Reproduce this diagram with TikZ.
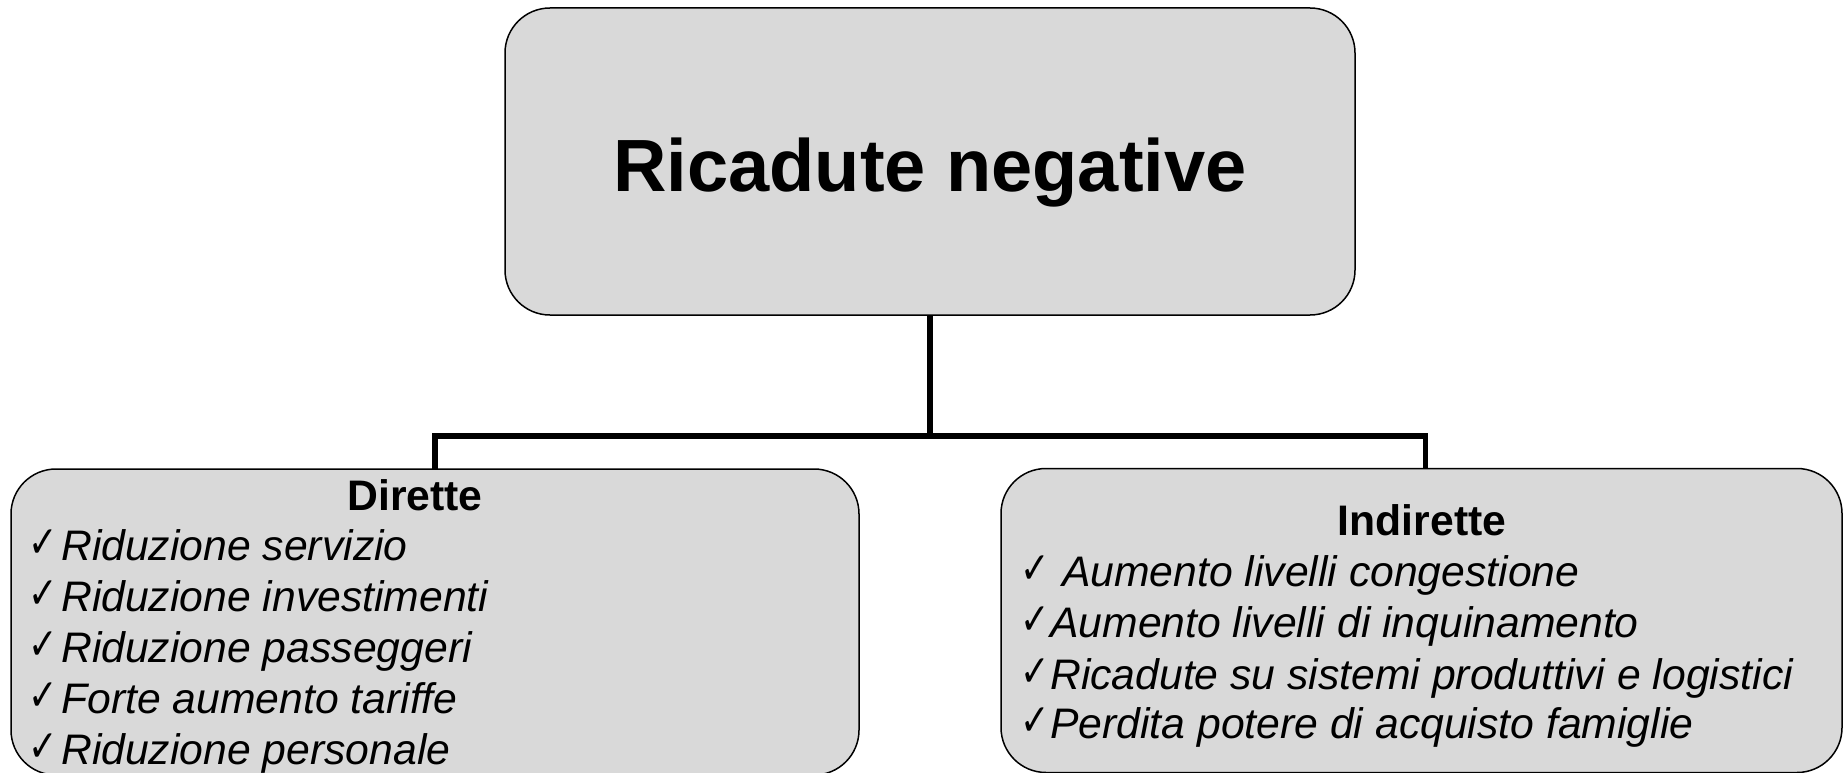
\documentclass[tikz,border=0pt]{standalone}
\usepackage{fontspec}
\setmainfont{Liberation Sans}
\newfontfamily\symfont{DejaVu Sans}
\definecolor{boxgray}{HTML}{D9D9D9}
\newcommand{\spunta}[1]{\makebox[#1][l]{\raisebox{3pt}{\scalebox{0.8}[1]{\symfont\fontsize{44}{44}\selectfont ✓}}}}

\begin{document}
\begin{tikzpicture}[x=1pt,y=-1pt]
\tikzset{ box/.style={draw=black, line width=1.5pt, fill=boxgray, rounded corners=45pt, inner sep=0pt, outer sep=0pt},
  link/.style={line width=5.5pt},
  voce/.style={anchor=base west, inner sep=0pt, font=\fontsize{42.7}{51}\selectfont\itshape},
  titolo/.style={anchor=base, inner sep=0pt, font=\fontsize{42.7}{51}\selectfont\bfseries} }

\useasboundingbox (0,0) rectangle (1843,773);

\node [box, minimum width=850pt, minimum height=307pt] (ricadute)  at (930,161.5) {};
\node [box, minimum width=848pt, minimum height=306pt] (dirette)   at (435,622) {};
\node [box, minimum width=841pt, minimum height=304pt] (indirette) at (1421.5,620.5) {};

\coordinate (bus) at (930,436);

\draw [link] (ricadute.south) -- (bus);
\draw [link] (dirette.north) |- (bus) -| ([xshift=4pt]indirette.north);

\node [anchor=base, inner sep=0pt, font=\fontsize{74}{80}\selectfont\bfseries] (titolo) at (930,191.5) {Ricadute negative};

\node [titolo] (tdir) at (415,510) {Dirette};
\node [titolo] (tind) at (1422,535) {Indirette};

\node [voce] (d1) at (28,560) {\spunta{33pt}Riduzione servizio};
\node [voce] (d2) at (28,611) {\spunta{33pt}Riduzione investimenti};
\node [voce] (d3) at (28,662) {\spunta{33pt}Riduzione passeggeri};
\node [voce] (d4) at (28,713) {\spunta{33pt}Forte aumento tariffe};
\node [voce] (d5) at (28,764) {\spunta{33pt}Riduzione personale};

\node [voce] (i1) at (1020,586) {\spunta{30pt} Aumento livelli congestione};
\node [voce] (i2) at (1020,637) {\spunta{30pt}Aumento livelli di inquinamento};
\node [voce] (i3) at (1020,689) {\spunta{30pt}Ricadute su sistemi produttivi e logistici};
\node [voce] (i4) at (1020,738) {\spunta{30pt}Perdita potere di acquisto famiglie};

\end{tikzpicture}
\end{document}
